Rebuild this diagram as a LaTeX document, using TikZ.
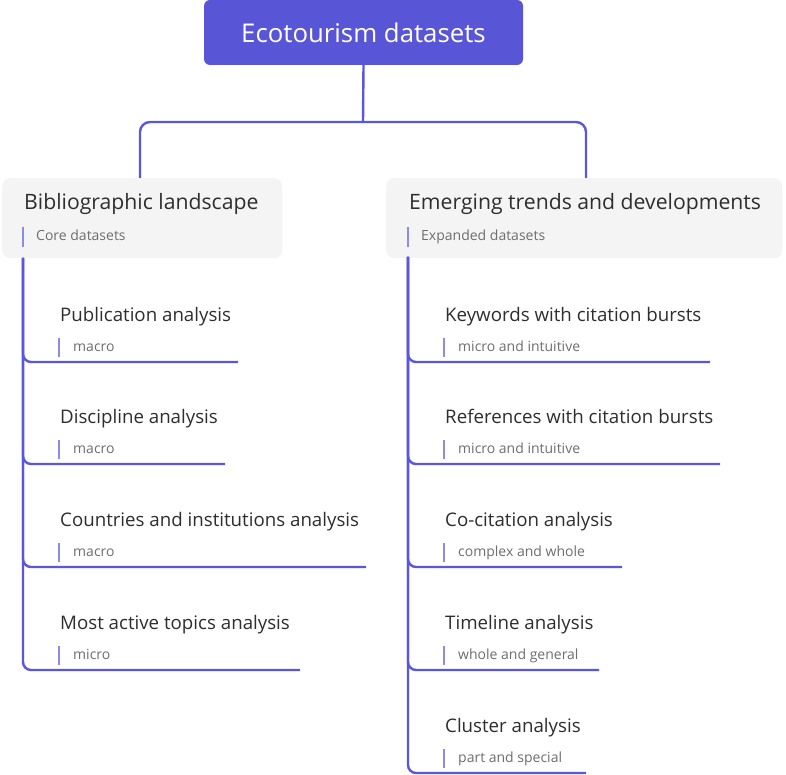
\documentclass[tikz,border=0pt]{standalone}
\usepackage{fontspec}
\setmainfont{Open Sans}
\definecolor{accent}{HTML}{5856D6}
\definecolor{linec}{HTML}{5A56DE}
\definecolor{barc}{HTML}{8E8BE6}
\definecolor{boxfill}{HTML}{F4F4F4}
\definecolor{titlec}{HTML}{2E2E2E}
\definecolor{subc}{HTML}{6E6E6E}
\tikzset{
  rootbox/.style={fill=accent, rounded corners=6pt, text=white, minimum width=319pt, minimum height=65pt, inner sep=0pt, font=\fontsize{25.8}{30}\selectfont},
  catbox/.style={fill=boxfill, rounded corners=8pt, inner sep=0pt, anchor=north west},
  cattitle/.style={anchor=base west, inner sep=0pt, text=titlec, font=\fontsize{21.2}{25}\selectfont},
  chtitle/.style={anchor=base west, inner sep=0pt, text=titlec, font=\fontsize{18.7}{22}\selectfont},
  subtxt/.style={anchor=base west, inner sep=0pt, text=subc, font=\fontsize{14}{16}\selectfont},
  conn/.style={draw=linec, line width=2.4pt},
  subbar/.style={draw=barc, line width=2pt},
}
\newcommand\mychild[6]{% #1 name, #2 trunk x, #3 line y, #4 end x, #5 title, #6 subtitle
  \node[chtitle] (#1t) at (#2+37,#3-41) {#5};
  \coordinate (#1b1) at (#2+36,#3-24);
  \coordinate (#1b2) at (#2+36,#3-5);
  \draw[subbar] (#1b1) -- (#1b2);
  \node[subtxt] (#1s) at (#2+50,#3-11) {#6};
  \coordinate (#1e) at (#4,#3);
}
\begin{document}
\begin{tikzpicture}[x=1pt,y=-1pt]
\useasboundingbox[fill=white] (0,0) rectangle (786,775);

% root
\node[rootbox] (root) at (363.5,32.5) {Ecotourism datasets};
\coordinate (fork) at (363,122);
\coordinate (lj) at (140,178);
\coordinate (rj) at (586,178);
\draw[conn] (root.south) -- (fork);
\draw[conn, rounded corners=10pt] (lj) |- (fork);
\draw[conn, rounded corners=10pt] (rj) |- (fork);

% category boxes
\node[catbox, minimum width=280pt, minimum height=80pt] (lbox) at (2,178) {};
\node[catbox, minimum width=396pt, minimum height=80pt] (rbox) at (386,178) {};
\node[cattitle] (ltitle) at (24,210) {Bibliographic landscape};
\node[cattitle] (rtitle) at (409,210) {Emerging trends and developments};
\coordinate (lbar1) at (23,227); \coordinate (lbar2) at (23,247);
\coordinate (rbar1) at (408,227); \coordinate (rbar2) at (408,247);
\draw[subbar] (lbar1) -- (lbar2);
\draw[subbar] (rbar1) -- (rbar2);
\node[subtxt] (lsub) at (36,241) {Core datasets};
\node[subtxt] (rsub) at (421,241) {Expanded datasets};

% left children
\coordinate (ltrunk) at (23,258);
\mychild{la}{23}{362}{238}{Publication analysis}{macro}
\mychild{lb}{23}{464}{225}{Discipline analysis}{macro}
\mychild{lc}{23}{567}{366}{Countries and institutions analysis}{macro}
\mychild{ld}{23}{670}{300}{Most active topics analysis}{micro}
\foreach \c in {la,lb,lc,ld} \draw[conn, rounded corners=8pt] (ltrunk) |- (\c e);

% right children
\coordinate (rtrunk) at (408,257);
\mychild{ra}{408}{362}{710}{Keywords with citation bursts}{micro and intuitive}
\mychild{rb}{408}{464}{720}{References with citation bursts}{micro and intuitive}
\mychild{rc}{408}{567}{622}{Co-citation analysis}{complex and whole}
\mychild{rd}{408}{670}{599}{Timeline analysis}{whole and general}
\mychild{re}{408}{773}{586}{Cluster analysis}{part and special}
\foreach \c in {ra,rb,rc,rd,re} \draw[conn, rounded corners=8pt] (rtrunk) |- (\c e);
\end{tikzpicture}
\end{document}
